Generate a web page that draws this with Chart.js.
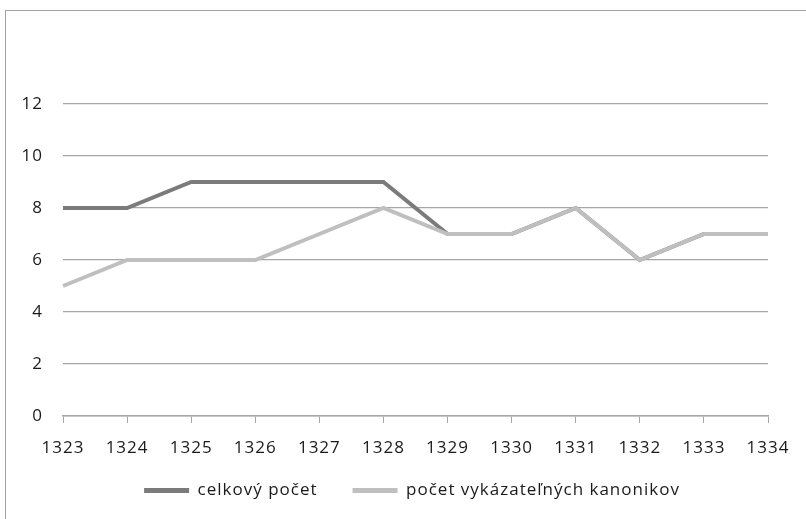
<!DOCTYPE html>
<html lang="sk">
<head>
    <meta charset="UTF-8">
    <title>Počet kanonikov 1323–1334</title>
    <script src="https://cdn.jsdelivr.net/npm/chart.js"></script>
    <style>
        body {
            margin: 0;
            width: 806px;
            height: 519px;
            overflow: hidden;
            position: relative;
            background: #fff;
        }
        .frame {
            position: absolute;
            left: 5px;
            top: 10px;
            width: 900px;
            height: 600px;
            border: 1.5px solid #a3a3a3;
        }
        .canvas-container {
            position: absolute;
            left: 0;
            top: 0;
            width: 806px;
            height: 519px;
        }
    </style>
</head>
<body>
    <div class="frame"></div>
    <div class="canvas-container">
        <canvas id="chart"></canvas>
    </div>

    <script>
        // data
        const years = ['1323', '1324', '1325', '1326', '1327', '1328', '1329', '1330', '1331', '1332', '1333', '1334'];
        const celkovyPocet = [8, 8, 9, 9, 9, 9, 7, 7, 8, 6, 7, 7];
        const vykazatelnych = [5, 6, 6, 6, 7, 8, 7, 7, 8, 6, 7, 7];
        const yTicks = [0, 2, 4, 6, 8, 10, 12];

        const font = { family: "'Open Sans', sans-serif", size: 17 };

        // the original text is spaced a little wider than Open Sans
        const spacing = {
            id: 'spacing',
            beforeUpdate: chart => { chart.ctx.letterSpacing = '1px'; },
            beforeLayout: chart => { chart.ctx.letterSpacing = '1px'; },
            beforeDraw: chart => { chart.ctx.letterSpacing = '1px'; }
        };

        // legend sits a bit right of the centre and closer to the axis
        const legendShift = {
            id: 'legendShift',
            afterLayout: chart => {
                const lg = chart.legend;
                lg.left += 28; lg.right += 28;
                lg.top -= 13; lg.bottom -= 13;
            }
        };

        const config = {
            type: 'line',
            data: {
                labels: years,
                datasets: [{
                    label: 'celkový počet',
                    data: celkovyPocet,
                    borderColor: '#7b7b7b',
                    backgroundColor: '#7b7b7b',
                    borderWidth: 4,
                    pointRadius: 0,
                    tension: 0,
                    order: 1
                }, {
                    label: 'počet vykázateľných kanonikov',
                    data: vykazatelnych,
                    borderColor: '#bfbfbf',
                    backgroundColor: '#bfbfbf',
                    borderWidth: 4,
                    pointRadius: 0,
                    tension: 0,
                    order: 0
                }]
            },
            options: {
                responsive: true,
                maintainAspectRatio: false,
                animation: false,
                layout: {
                    padding: { left: 0, right: 38, top: 104, bottom: -3 }
                },
                scales: {
                    x: {
                        offset: false,
                        grid: {
                            drawOnChartArea: false,
                            drawTicks: true,
                            tickLength: 7,
                            color: '#a6a6a6'
                        },
                        border: { color: '#a6a6a6', width: 1.5 },
                        ticks: {
                            color: '#1a1a1a',
                            font: font,
                            maxRotation: 0,
                            autoSkip: false,
                            padding: 15
                        },
                        afterFit: function(scale) { scale.height = 44; }
                    },
                    y: {
                        min: 0,
                        max: 12,
                        afterBuildTicks: function(scale) {
                            scale.ticks = yTicks.map(v => ({ value: v }));
                        },
                        grid: {
                            drawTicks: false,
                            color: '#a6a6a6',
                            lineWidth: 1.2
                        },
                        border: { display: false },
                        ticks: {
                            color: '#1a1a1a',
                            font: font,
                            padding: 20
                        },
                        afterFit: function(scale) { scale.width = 63; }
                    }
                },
                plugins: {
                    tooltip: { enabled: false },
                    legend: {
                        position: 'bottom',
                        labels: {
                            font: font,
                            color: '#1a1a1a',
                            boxWidth: 45,
                            boxHeight: 5,
                            padding: 35,
                            generateLabels: function(chart) {
                                return Chart.defaults.plugins.legend.labels.generateLabels(chart)
                                    .map(l => Object.assign(l, { lineWidth: 0 }));
                            },
                            sort: (a, b) => a.datasetIndex - b.datasetIndex
                        }
                    }
                }
            },
            plugins: [spacing, legendShift]
        };

        new Chart(document.getElementById('chart'), config);
    </script>
</body>
</html>
